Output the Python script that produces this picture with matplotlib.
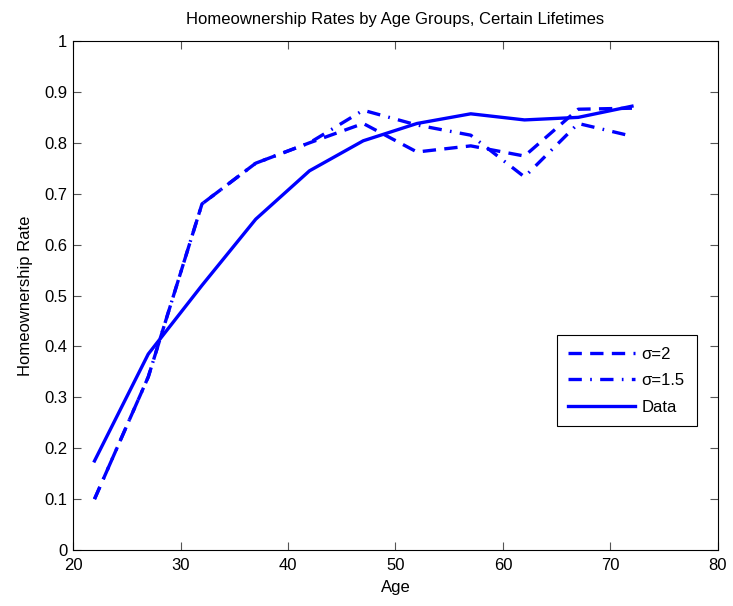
import matplotlib
matplotlib.use("Agg")
import matplotlib.pyplot as plt

plt.rcParams["font.family"] = ["Liberation Sans", "DejaVu Sans"]

age = [22, 27, 32, 37, 42, 47, 52, 57, 62, 67, 72]
sigma2 = [0.10, 0.34, 0.68, 0.76, 0.80, 0.838, 0.782, 0.794, 0.774, 0.866, 0.868]
sigma15 = [0.10, 0.34, 0.68, 0.76, 0.80, 0.864, 0.835, 0.815, 0.733, 0.838, 0.813]
data = [0.175, 0.385, 0.52, 0.65, 0.745, 0.804, 0.838, 0.857, 0.845, 0.850, 0.872]

fig = plt.figure(figsize=(7.33, 6.06), dpi=100)
ax = fig.add_axes((0.0996, 0.0924, 0.8799, 0.8399))  # matlab-like axes box

ax.plot(age, sigma2, color="blue", lw=2.4, dashes=(4, 2.5), label="σ=2")
ax.plot(age, sigma15, color="blue", lw=2.4, dashes=(4, 2.5, 0.5, 2.5), label="σ=1.5")
ax.plot(age, data, color="blue", lw=2.4, label="Data")

ax.set_xlim(20, 80)
ax.set_ylim(0, 1)
ax.set_xticks(range(20, 81, 10))
ax.set_yticks([i / 10 for i in range(11)])
ax.set_yticklabels(["0", "0.1", "0.2", "0.3", "0.4", "0.5", "0.6", "0.7", "0.8", "0.9", "1"])
ax.tick_params(direction="in", top=True, right=True, labelsize=12, length=6, color="#555555")
ax.tick_params(axis="x", pad=6)
ax.tick_params(axis="y", pad=4)
for s in ax.spines.values():
    s.set_linewidth(0.8)

ax.set_xlabel("Age", fontsize=12, labelpad=5)
ax.set_ylabel("Homeownership Rate", fontsize=12, labelpad=8)
ax.set_title("Homeownership Rates by Age Groups, Certain Lifetimes", fontsize=12, pad=12)

leg = ax.legend(loc="upper left", bbox_to_anchor=(0.750, 0.422), fontsize=12,
                fancybox=False, framealpha=1, edgecolor="black", handlelength=4.0,
                borderpad=0.7, labelspacing=0.68, handletextpad=0.4, borderaxespad=0)
leg.get_frame().set_linewidth(0.8)

fig.savefig("out.png", dpi=100)
